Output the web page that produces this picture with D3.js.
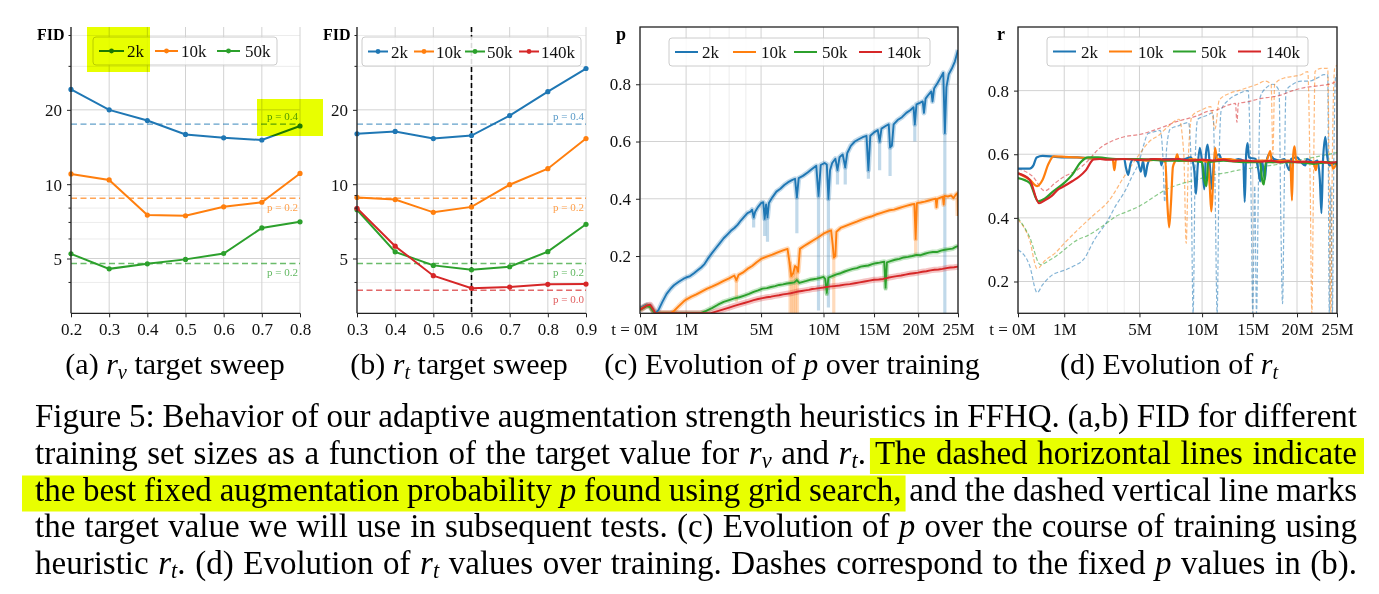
<!DOCTYPE html>
<html><head><meta charset="utf-8">
<script src="https://cdn.jsdelivr.net/npm/d3@7"></script>
<style>
body{margin:0;background:#fff;}
svg{display:block;font-family:"Liberation Serif","Times New Roman",serif;}
</style></head><body>
<svg id="fig" width="1379" height="594"></svg>
<script>
// ---------------- DATA ----------------
const sizeLabels = ["2k","10k","50k","140k"];
const fixedPLabels = ["p = 0.4","p = 0.2","p = 0.2","p = 0.0"];
const fixedPFid = [17.5, 8.77, 4.77, 3.72];

const rvTargets = [0.2,0.3,0.4,0.5,0.6,0.7,0.8];
const rvFid2k  = [24.2,20.0,18.1,15.9,15.4,15.1,17.2];
const rvFid10k = [11.0,10.4,7.5,7.45,8.1,8.45,11.05];
const rvFid50k = [5.22,4.54,4.76,4.96,5.24,6.65,7.04];

const rtTargets = [0.3,0.4,0.5,0.6,0.7,0.8,0.9];
const rtFid2k   = [16.0,16.35,15.3,15.74,18.96,23.7,29.4];
const rtFid10k  = [8.84,8.66,7.69,8.09,9.95,11.55,15.3];
const rtFid50k  = [7.88,5.32,4.69,4.5,4.63,5.33,6.88];
const rtFid140k = [7.99,5.61,4.26,3.79,3.83,3.93,3.94];
const chosenTarget = 0.6;

const fidTicks = [5,10,20];
const fidMinorTicks = [4,6,7,8,9,30,40];
const timeTicks = [0,1,5,10,15,20,25];
const timeTickLabels = ["t = 0M","1M","5M","10M","15M","20M","25M"];
const timeMinorTicks = [2,3,4];
const pTicks = [0.2,0.4,0.6,0.8];
const rTicks = [0.2,0.4,0.6,0.8];

// (c) p over training, [t in M images, p]
const p2k = [[0,0.018],[0.04,0.03],[0.08,0.028],[0.12,0.012],[0.16,0.0],[0.22,0.012],[0.3,0.04],[0.4,0.068],[0.5,0.085],[0.6,0.098],[0.75,0.11],[0.9,0.12],[1.0,0.125],[1.15,0.13],[1.3,0.14],[1.45,0.15],[1.6,0.16],[1.75,0.172],[1.9,0.19],[2.1,0.21],[2.3,0.228],[2.5,0.245],[2.7,0.262],[2.9,0.275],[3.1,0.288],[3.3,0.298],[3.5,0.31],[3.7,0.325],[3.9,0.338],[4.1,0.35],[4.3,0.355],[4.4,0.362],[4.5,0.335],[4.6,0.355],[4.8,0.372],[5.0,0.385],[5.15,0.388],[5.25,0.33],[5.35,0.38],[5.45,0.335],[5.55,0.385],[5.8,0.405],[6.1,0.425],[6.4,0.435],[6.7,0.448],[7.0,0.458],[7.3,0.465],[7.55,0.47],[7.7,0.405],[7.85,0.472],[8.2,0.48],[8.6,0.492],[9.0,0.505],[9.35,0.515],[9.55,0.41],[9.75,0.518],[10.1,0.525],[10.3,0.52],[10.45,0.40],[10.6,0.50],[10.8,0.525],[11.1,0.54],[11.3,0.50],[11.5,0.545],[11.8,0.555],[12.05,0.51],[12.25,0.56],[12.6,0.585],[13.0,0.6],[13.4,0.608],[13.8,0.615],[14.2,0.62],[14.4,0.50],[14.6,0.62],[15.0,0.632],[15.4,0.64],[15.6,0.60],[15.8,0.645],[16.3,0.655],[16.6,0.66],[16.75,0.58],[16.95,0.585],[17.15,0.66],[17.6,0.675],[18.1,0.685],[18.6,0.70],[19.1,0.71],[19.45,0.72],[19.6,0.66],[19.8,0.73],[20.2,0.735],[20.55,0.74],[20.7,0.70],[20.9,0.75],[21.3,0.765],[21.6,0.775],[21.75,0.74],[21.95,0.785],[22.4,0.805],[22.8,0.825],[23.1,0.84],[23.3,0.63],[23.5,0.79],[23.8,0.835],[24.2,0.855],[24.6,0.88],[25.0,0.92]];
const p10k = [[0,0.015],[0.04,0.028],[0.08,0.025],[0.12,0.01],[0.16,0.0],[0.5,0.0],[0.6,0.008],[0.75,0.025],[0.9,0.04],[1.0,0.048],[1.2,0.058],[1.4,0.066],[1.6,0.075],[1.85,0.085],[2.1,0.093],[2.4,0.103],[2.7,0.113],[3.0,0.122],[3.3,0.132],[3.42,0.115],[3.55,0.134],[3.8,0.142],[4.1,0.155],[4.4,0.165],[4.7,0.178],[5.0,0.19],[5.4,0.198],[5.8,0.205],[6.2,0.213],[6.6,0.22],[6.95,0.225],[7.1,0.18],[7.25,0.13],[7.4,0.14],[7.55,0.165],[7.7,0.16],[7.8,0.145],[7.95,0.225],[8.3,0.235],[8.7,0.245],[9.1,0.255],[9.5,0.265],[10.0,0.278],[10.4,0.285],[10.7,0.29],[10.85,0.24],[10.95,0.195],[11.1,0.2],[11.2,0.285],[11.6,0.298],[12.1,0.305],[12.6,0.312],[13.2,0.32],[13.7,0.327],[14.2,0.333],[14.7,0.338],[15.2,0.345],[15.7,0.35],[16.2,0.355],[16.7,0.36],[17.2,0.362],[17.7,0.367],[18.2,0.372],[18.7,0.376],[19.2,0.38],[19.55,0.382],[19.7,0.26],[19.85,0.385],[20.3,0.387],[20.8,0.39],[21.3,0.394],[21.8,0.398],[22.15,0.40],[22.25,0.37],[22.35,0.40],[22.8,0.405],[23.05,0.407],[23.15,0.38],[23.25,0.41],[23.7,0.408],[24.1,0.412],[24.4,0.402],[24.7,0.414],[24.95,0.42],[25.0,0.34]];
const p50k = [[0,0.012],[0.04,0.025],[0.08,0.022],[0.12,0.008],[0.16,0.0],[1.55,0.0],[1.8,0.008],[2.1,0.018],[2.4,0.03],[2.7,0.04],[3.0,0.046],[3.3,0.052],[3.6,0.056],[3.9,0.062],[4.2,0.068],[4.5,0.075],[4.8,0.08],[5.1,0.086],[5.4,0.088],[5.7,0.092],[6.0,0.095],[6.3,0.099],[6.6,0.101],[6.9,0.104],[7.2,0.106],[7.5,0.108],[7.7,0.116],[7.9,0.106],[8.2,0.11],[8.5,0.113],[8.8,0.117],[9.1,0.119],[9.4,0.121],[9.7,0.124],[10.0,0.127],[10.15,0.12],[10.3,0.072],[10.45,0.125],[10.8,0.13],[11.2,0.136],[11.6,0.14],[12.0,0.146],[12.4,0.151],[12.8,0.155],[13.2,0.158],[13.6,0.163],[14.0,0.165],[14.4,0.167],[14.8,0.172],[15.2,0.175],[15.6,0.177],[16.1,0.18],[16.25,0.09],[16.4,0.178],[16.8,0.182],[17.3,0.187],[17.8,0.19],[18.3,0.195],[18.8,0.197],[19.3,0.2],[19.8,0.204],[20.3,0.203],[20.8,0.208],[21.3,0.212],[21.8,0.214],[22.3,0.214],[22.8,0.219],[23.3,0.222],[23.8,0.224],[24.3,0.226],[24.7,0.232],[25.0,0.235]];
const p140k = [[0,0.012],[0.04,0.027],[0.08,0.03],[0.12,0.015],[0.16,0.0],[2.0,0.0],[2.3,0.006],[2.6,0.012],[3.0,0.02],[3.3,0.026],[3.6,0.031],[3.9,0.036],[4.2,0.041],[4.5,0.046],[4.8,0.05],[5.1,0.053],[5.4,0.056],[5.7,0.058],[6.0,0.061],[6.3,0.063],[6.6,0.066],[6.9,0.068],[7.2,0.07],[7.5,0.073],[7.8,0.076],[8.1,0.078],[8.4,0.08],[8.7,0.082],[9.0,0.085],[9.3,0.086],[9.6,0.088],[10.0,0.09],[10.5,0.093],[11.0,0.095],[11.5,0.097],[12.0,0.1],[12.5,0.102],[13.0,0.105],[13.5,0.108],[14.0,0.111],[14.5,0.114],[15.0,0.117],[15.5,0.118],[16.0,0.12],[16.5,0.124],[17.0,0.127],[17.5,0.13],[18.0,0.132],[18.5,0.135],[19.0,0.138],[19.5,0.14],[20.0,0.142],[20.5,0.145],[21.0,0.147],[21.5,0.15],[22.0,0.152],[22.5,0.153],[23.0,0.155],[23.5,0.158],[24.0,0.16],[24.5,0.161],[25.0,0.163]];
// pale spread reaching below the mean at the dips
const p2kBandDips = [[4.5,0.3],[5.25,0.27],[5.45,0.25],[7.7,0.28],[9.55,0.01],[10.45,0.02],[11.3,0.45],[12.05,0.45],[14.4,0.47],[15.6,0.5],[16.75,0.48],[19.6,0.6],[23.3,0.0]];
const p10kBandDips = [[3.42,0.04],[7.15,0.0],[7.3,0.0],[7.45,0.0],[7.6,0.0],[7.75,0.0],[10.95,0.0],[19.7,0.2]];
const p50kBandDips = [[10.3,0.06],[16.25,0.08]];

// (d) r_t over training (solid: adaptive), [t, r]
const rt2k = [[0,0.555],[0.1,0.555],[0.16,0.565],[0.22,0.59],[0.35,0.595],[0.7,0.592],[1.0,0.59],[1.5,0.59],[2.0,0.588],[3.0,0.585],[4.0,0.585],[4.1,0.56],[4.25,0.535],[4.4,0.57],[4.6,0.585],[4.9,0.575],[5.1,0.545],[5.25,0.58],[5.4,0.53],[5.55,0.565],[5.8,0.585],[6.5,0.585],[6.6,0.565],[6.7,0.585],[7.5,0.585],[8.0,0.58],[8.5,0.585],[9.0,0.59],[9.3,0.55],[9.45,0.475],[9.6,0.56],[9.8,0.62],[10.0,0.575],[10.2,0.49],[10.35,0.6],[10.5,0.63],[10.7,0.57],[10.9,0.49],[11.1,0.58],[11.6,0.6],[11.8,0.585],[12.5,0.585],[13.0,0.58],[13.5,0.585],[14.0,0.58],[14.15,0.45],[14.3,0.6],[14.45,0.635],[14.6,0.59],[15.3,0.585],[15.6,0.55],[15.8,0.515],[16.0,0.58],[16.3,0.52],[16.5,0.58],[16.8,0.6],[17.3,0.585],[18.0,0.58],[18.5,0.585],[19.1,0.55],[19.3,0.585],[20.0,0.59],[20.5,0.575],[21.0,0.565],[21.2,0.585],[22.0,0.575],[22.5,0.58],[22.8,0.52],[23.0,0.415],[23.2,0.58],[23.5,0.655],[23.7,0.6],[24.0,0.565],[24.5,0.57],[25.0,0.575]];
const rt10k = [[0,0.54],[0.1,0.52],[0.23,0.50],[0.35,0.52],[0.5,0.57],[0.65,0.593],[1.0,0.592],[1.5,0.59],[2.0,0.588],[3.0,0.585],[3.3,0.585],[3.4,0.55],[3.5,0.585],[4.5,0.585],[5.5,0.58],[6.5,0.585],[6.9,0.575],[7.05,0.45],[7.2,0.37],[7.35,0.45],[7.5,0.56],[7.7,0.58],[7.85,0.6],[8.0,0.58],[8.6,0.58],[9.0,0.585],[10.0,0.58],[10.5,0.575],[10.7,0.5],[10.85,0.42],[11.0,0.5],[11.2,0.62],[11.4,0.585],[12.5,0.585],[13.5,0.58],[14.5,0.575],[15.5,0.58],[16.5,0.58],[16.9,0.61],[17.1,0.575],[18.0,0.58],[19.2,0.58],[19.4,0.455],[19.55,0.6],[19.7,0.625],[19.9,0.58],[21.0,0.575],[22.0,0.575],[22.3,0.55],[22.5,0.575],[23.5,0.575],[24.3,0.57],[24.5,0.555],[25.0,0.575]];
const rt50k = [[0,0.525],[0.1,0.51],[0.25,0.452],[0.4,0.46],[0.6,0.48],[1.0,0.51],[1.3,0.535],[1.65,0.574],[2.0,0.59],[2.5,0.59],[3.5,0.585],[5.0,0.585],[7.0,0.58],[9.0,0.58],[10.0,0.575],[10.2,0.52],[10.4,0.5],[10.55,0.575],[12.0,0.58],[14.0,0.575],[15.8,0.575],[16.0,0.52],[16.2,0.505],[16.4,0.575],[18.0,0.575],[20.0,0.575],[22.0,0.57],[24.0,0.575],[25.0,0.57]];
const rt140k = [[0,0.54],[0.1,0.52],[0.27,0.446],[0.4,0.455],[0.6,0.47],[0.8,0.49],[1.0,0.50],[1.3,0.515],[1.6,0.53],[1.9,0.55],[2.27,0.584],[2.6,0.585],[3.0,0.583],[4.0,0.585],[5.0,0.582],[6.0,0.585],[7.0,0.583],[8.0,0.585],[9.0,0.58],[10.0,0.583],[11.0,0.58],[12.0,0.583],[13.0,0.578],[14.0,0.58],[15.0,0.578],[16.0,0.577],[17.0,0.58],[18.0,0.575],[19.0,0.578],[20.0,0.575],[21.0,0.577],[22.0,0.574],[23.0,0.576],[24.0,0.573],[25.0,0.575]];
// (d) dashed: r_t measured with the fixed p values of (b)
const rtFixed2k = [[0,0.30],[0.1,0.25],[0.23,0.165],[0.35,0.19],[0.6,0.22],[1.0,0.235],[1.4,0.25],[1.8,0.27],[2.3,0.33],[3.0,0.39],[3.5,0.44],[4.0,0.48],[4.5,0.53],[5.0,0.58],[5.3,0.63],[5.6,0.665],[6.0,0.67],[6.5,0.675],[6.7,0.6],[6.85,0.45],[7.0,0.62],[7.3,0.68],[8.0,0.69],[8.8,0.7],[9.0,0.6],[9.2,0.1],[9.4,0.6],[9.6,0.71],[10.3,0.72],[11.0,0.73],[11.2,0.5],[11.4,0.1],[11.6,0.6],[11.8,0.74],[12.5,0.77],[13.5,0.79],[14.5,0.8],[14.8,0.5],[15.0,0.1],[15.2,0.5],[15.4,0.1],[15.6,0.5],[15.8,0.78],[16.5,0.81],[17.2,0.82],[17.9,0.8],[18.1,0.4],[18.3,0.13],[18.5,0.5],[18.7,0.8],[19.5,0.82],[20.5,0.83],[21.5,0.83],[22.5,0.84],[23.3,0.85],[23.8,0.85],[24.0,0.1],[24.2,0.5],[24.4,0.1],[24.6,0.6],[24.8,0.84],[25.0,0.85]];
const rtFixed10k = [[0,0.395],[0.1,0.33],[0.23,0.24],[0.4,0.265],[0.7,0.29],[1.0,0.32],[1.5,0.36],[2.2,0.405],[3.1,0.455],[4.0,0.53],[5.0,0.6],[5.7,0.64],[6.4,0.66],[7.2,0.69],[8.0,0.71],[8.4,0.6],[8.6,0.32],[8.8,0.6],[9.1,0.72],[10.0,0.74],[10.8,0.75],[11.2,0.68],[11.6,0.77],[12.5,0.79],[13.5,0.8],[14.5,0.81],[15.5,0.82],[16.3,0.83],[17.0,0.82],[17.2,0.6],[17.4,0.82],[18.5,0.84],[19.6,0.845],[20.5,0.85],[21.3,0.86],[21.6,0.5],[21.8,0.1],[22.0,0.5],[22.2,0.86],[23.0,0.87],[23.8,0.87],[24.0,0.5],[24.2,0.1],[24.4,0.6],[24.7,0.87],[25.0,0.88]];
const rtFixed50k = [[0,0.40],[0.1,0.34],[0.3,0.253],[0.5,0.265],[0.8,0.285],[1.0,0.30],[1.5,0.33],[2.0,0.345],[2.4,0.36],[3.0,0.385],[3.5,0.405],[4.2,0.42],[5.0,0.437],[6.0,0.465],[7.0,0.49],[8.0,0.505],[9.0,0.515],[10.0,0.525],[11.0,0.535],[12.3,0.542],[13.5,0.55],[15.0,0.557],[16.5,0.563],[17.5,0.567],[19.0,0.575],[20.5,0.583],[22.0,0.59],[23.5,0.598],[25.0,0.605]];
const rtFixed140k = [[0,0.555],[0.15,0.53],[0.4,0.485],[0.7,0.51],[1.0,0.53],[1.5,0.55],[2.0,0.58],[2.5,0.615],[3.2,0.64],[4.0,0.655],[5.0,0.662],[6.0,0.675],[7.0,0.69],[7.6,0.70],[8.5,0.71],[9.5,0.72],[10.5,0.735],[11.4,0.74],[12.5,0.755],[13.2,0.76],[13.35,0.70],[13.5,0.76],[14.5,0.765],[15.8,0.775],[17.0,0.78],[18.0,0.785],[19.5,0.80],[21.0,0.81],[22.5,0.815],[24.0,0.82],[25.0,0.83]];

// ---------------- STYLE / LAYOUT ----------------
const COLORS = ["#1f77b4","#ff7f0e","#2ca02c","#d62728"];
const GRID = "#d2d2d2", GRID_MINOR = "#ececec", SPINE = "#222";
const HL = "#e8ff00";
const TICKFS = 17, LEGFS = 17;
const YTOP = 27, YBOT = 313.3;

const svg = d3.select("#fig");
svg.append("rect").attr("width",1379).attr("height",594).attr("fill","#fff");

let clipId = 0;
function makeClip(x0,x1){
  const id = "clip"+(clipId++);
  svg.append("clipPath").attr("id",id).append("rect")
    .attr("x",x0).attr("y",YTOP).attr("width",x1-x0).attr("height",YBOT-YTOP);
  return "url(#"+id+")";
}
function styleAxis(g){
  g.select(".domain").remove();
  g.selectAll(".tick line").attr("stroke",SPINE).attr("stroke-width",1);
  g.selectAll(".tick text").attr("font-size",TICKFS).attr("font-family","Liberation Serif").attr("fill","#111");
}
function legend(g, box, items, withMarker){
  g.append("rect").attr("x",box[0]).attr("y",box[1]).attr("width",box[2]).attr("height",box[3])
    .attr("rx",3).attr("fill","#fff").attr("fill-opacity",0.85).attr("stroke","#cccccc").attr("stroke-width",1);
  const cy = box[1]+box[3]/2;
  items.forEach(it=>{
    g.append("line").attr("x1",it.lx).attr("x2",it.lx+it.len).attr("y1",cy).attr("y2",cy)
      .attr("stroke",it.color).attr("stroke-width",2);
    if(withMarker) g.append("circle").attr("cx",it.lx+it.len/2).attr("cy",cy).attr("r",2.4).attr("fill",it.color);
    g.append("text").attr("x",it.tx).attr("y",cy+6).attr("font-size",LEGFS).attr("fill","#111").text(it.label);
  });
}

// ---------- FID panels (a) (b) ----------
function fidPanel(cfg){
  const g = svg.append("g");
  const x = d3.scaleLinear().domain(cfg.xDomain).range([cfg.x0,cfg.x1]);
  const y = d3.scaleLog().domain([3.0,43.3]).range([YBOT,YTOP]);
  const clip = makeClip(cfg.x0-3,cfg.x1+3);
  g.selectAll(".mg").data(fidMinorTicks).join("line")
    .attr("x1",cfg.x0).attr("x2",cfg.x1).attr("y1",d=>y(d)).attr("y2",d=>y(d))
    .attr("stroke",GRID_MINOR).attr("stroke-width",1);
  g.selectAll(".hg").data(fidTicks).join("line")
    .attr("x1",cfg.x0).attr("x2",cfg.x1).attr("y1",d=>y(d)).attr("y2",d=>y(d))
    .attr("stroke",GRID).attr("stroke-width",1);
  g.selectAll(".vg").data(cfg.targets).join("line")
    .attr("x1",d=>x(d)).attr("x2",d=>x(d)).attr("y1",YTOP).attr("y2",YBOT)
    .attr("stroke",GRID).attr("stroke-width",1);
  // fixed-p dashed references
  cfg.series.forEach((s,i)=>{
    const yy = y(fixedPFid[i]);
    g.append("line").attr("x1",cfg.x0).attr("x2",cfg.x1).attr("y1",yy).attr("y2",yy)
      .attr("stroke",COLORS[i]).attr("stroke-opacity",0.7).attr("stroke-width",1.4).attr("stroke-dasharray","6,3.5");
    g.append("text").attr("x",cfg.x1-2).attr("y", i===0 ? yy-4.5 : yy+12.5)
      .attr("text-anchor","end").attr("font-size",11).attr("fill",COLORS[i]).attr("fill-opacity",0.75)
      .text(fixedPLabels[i]);
  });
  if(cfg.vline!==undefined){
    g.append("line").attr("x1",x(cfg.vline)).attr("x2",x(cfg.vline)).attr("y1",YTOP).attr("y2",YBOT)
      .attr("stroke","#000").attr("stroke-width",1.6).attr("stroke-dasharray","5,3");
  }
  const line = d3.line().x((d,j)=>x(cfg.targets[j])).y(d=>y(d));
  const sg = g.append("g").attr("clip-path",clip);
  cfg.series.forEach((s,i)=>{
    sg.append("path").attr("d",line(s)).attr("fill","none").attr("stroke",COLORS[i]).attr("stroke-width",2);
    sg.selectAll(null).data(s).join("circle").attr("cx",(d,j)=>x(cfg.targets[j])).attr("cy",d=>y(d))
      .attr("r",2.6).attr("fill",COLORS[i]);
  });
  // axes
  const ax = g.append("g").attr("transform",`translate(0,${YBOT})`)
    .call(d3.axisBottom(x).tickValues(cfg.targets).tickFormat(d3.format(".1f")).tickSize(4).tickPadding(6));
  styleAxis(ax);
  const ay = g.append("g").attr("transform",`translate(${cfg.x0},0)`)
    .call(d3.axisLeft(y).tickValues(fidTicks).tickFormat(d3.format("d")).tickSize(4).tickPadding(5));
  styleAxis(ay);
  ay.selectAll(".tick text").attr("dy","0.36em");
  g.selectAll(".mt").data(fidMinorTicks).join("line")
    .attr("x1",cfg.x0-2.5).attr("x2",cfg.x0).attr("y1",d=>y(d)).attr("y2",d=>y(d)).attr("stroke",SPINE);
  g.append("line").attr("x1",cfg.x0).attr("x2",cfg.x0).attr("y1",YTOP).attr("y2",YBOT).attr("stroke",SPINE).attr("stroke-width",1.3);
  g.append("line").attr("x1",cfg.x0).attr("x2",cfg.x1).attr("y1",YBOT).attr("y2",YBOT).attr("stroke",SPINE).attr("stroke-width",1.3);
  g.append("text").attr("x",cfg.labelX).attr("y",40).attr("font-size",16).attr("font-weight","bold").text("FID");
  legend(g, cfg.legBox, cfg.legItems.map((it,i)=>({...it,color:COLORS[i],label:sizeLabels[i]})), true);
}

fidPanel({xDomain:[0.2,0.8], x0:71, x1:300, targets:rvTargets, series:[rvFid2k,rvFid10k,rvFid50k],
  labelX:37, legBox:[93,37,184,28],
  legItems:[{lx:99,len:25,tx:127},{lx:155,len:23,tx:181},{lx:217,len:23,tx:245}]});
fidPanel({xDomain:[0.3,0.9], x0:357, x1:586, targets:rtTargets, series:[rtFid2k,rtFid10k,rtFid50k,rtFid140k],
  labelX:323, vline:chosenTarget, legBox:[362,37,219,29],
  legItems:[{lx:368,len:20,tx:391},{lx:414,len:20,tx:436},{lx:465,len:20,tx:487},{lx:519,len:20,tx:541}]});

// ---------- time panels (c) (d) ----------
function timePanel(cfg){
  const g = svg.append("g");
  const x = d3.scalePow().exponent(0.6).domain([0,25]).range([cfg.x0,cfg.x1]);
  const y = d3.scaleLinear().domain(cfg.yDomain).range([YBOT,YTOP]);
  const clip = makeClip(cfg.x0,cfg.x1);
  g.selectAll(".vm").data(timeMinorTicks).join("line")
    .attr("x1",d=>x(d)).attr("x2",d=>x(d)).attr("y1",YTOP).attr("y2",YBOT).attr("stroke",GRID_MINOR).attr("stroke-width",1);
  g.selectAll(".vg").data(timeTicks).join("line")
    .attr("x1",d=>x(d)).attr("x2",d=>x(d)).attr("y1",YTOP).attr("y2",YBOT).attr("stroke",GRID).attr("stroke-width",1);
  g.selectAll(".hg").data(cfg.yTicks).join("line")
    .attr("x1",cfg.x0).attr("x2",cfg.x1).attr("y1",d=>y(d)).attr("y2",d=>y(d)).attr("stroke",GRID).attr("stroke-width",1);
  const pg = g.append("g").attr("clip-path",clip);
  cfg.draw(pg,x,y);
  const ax = g.append("g").attr("transform",`translate(0,${YBOT})`)
    .call(d3.axisBottom(x).tickValues(timeTicks).tickFormat((d,i)=>timeTickLabels[i]).tickSize(4).tickPadding(6));
  styleAxis(ax);
  ax.selectAll(".tick text").filter((d,i)=>i===0).attr("dx",-6);
  const ay = g.append("g").attr("transform",`translate(${cfg.x0},0)`)
    .call(d3.axisLeft(y).tickValues(cfg.yTicks).tickFormat(d3.format(".1f")).tickSize(4).tickPadding(5));
  styleAxis(ay);
  g.append("rect").attr("x",cfg.x0).attr("y",YTOP).attr("width",cfg.x1-cfg.x0).attr("height",YBOT-YTOP)
    .attr("fill","none").attr("stroke",SPINE).attr("stroke-width",1.3);
  g.append("text").attr("x",cfg.labelX).attr("y",40).attr("font-size",18).attr("font-weight","bold").text(cfg.label);
  legend(g, cfg.legBox, cfg.legItems.map((it,i)=>({...it,color:COLORS[i],label:sizeLabels[i]})), false);
}

timePanel({x0:640, x1:958, yDomain:[0,1], yTicks:pTicks, label:"p", labelX:616,
  legBox:[669,38,261,28],
  legItems:[{lx:675,len:23,tx:702},{lx:733,len:23,tx:761},{lx:794,len:23,tx:822},{lx:859,len:23,tx:887}],
  draw:(pg,x,y)=>{
    const line = d3.line().x(d=>x(d[0])).y(d=>y(d[1]));
    const series = [p2k,p10k,p50k,p140k];
    const dips = [p2kBandDips,p10kBandDips,p50kBandDips,[]];
    series.forEach((s,i)=>{
      pg.append("path").attr("d",line(s)).attr("fill","none").attr("stroke",COLORS[i])
        .attr("stroke-opacity",0.28).attr("stroke-width",i===3?6:5).attr("stroke-linejoin","round");
      pg.selectAll(null).data(dips[i]).join("line")
        .attr("x1",d=>x(d[0])).attr("x2",d=>x(d[0])).attr("y1",d=>y(d[1]))
        .attr("y2",d=>y(d3.least(s,q=>Math.abs(q[0]-d[0]))[1]))
        .attr("stroke",COLORS[i]).attr("stroke-opacity",0.28).attr("stroke-width",3.2);
    });
    series.forEach((s,i)=>{
      pg.append("path").attr("d",line(s)).attr("fill","none").attr("stroke",COLORS[i])
        .attr("stroke-width",1.9).attr("stroke-linejoin","round");
    });
  }});

timePanel({x0:1018, x1:1337, yDomain:[0.1,1.0], yTicks:rTicks, label:"r", labelX:997,
  legBox:[1047,37,261,29],
  legItems:[{lx:1053,len:23,tx:1081},{lx:1109,len:23,tx:1138},{lx:1173,len:23,tx:1201},{lx:1238,len:23,tx:1266}],
  draw:(pg,x,y)=>{
    const line = d3.line().x(d=>x(d[0])).y(d=>y(d[1])).curve(d3.curveMonotoneX);
    [rtFixed2k,rtFixed10k,rtFixed50k,rtFixed140k].forEach((s,i)=>{
      pg.append("path").attr("d",line(s)).attr("fill","none").attr("stroke",COLORS[i])
        .attr("stroke-opacity",0.55).attr("stroke-width",1.2).attr("stroke-dasharray","4,2.2");
    });
    [rt2k,rt10k,rt50k,rt140k].forEach((s,i)=>{
      pg.append("path").attr("d",line(s)).attr("fill","none").attr("stroke",COLORS[i])
        .attr("stroke-width",2.2).attr("stroke-linejoin","round");
    });
  }});

// ---------- captions ----------
function richText(x, y, segs, size){
  const t = svg.append("text").attr("x",x).attr("y",y).attr("font-size",size).attr("fill","#000");
  let shift = 0;
  segs.forEach(s=>{
    const ts = t.append("tspan").text(s.t);
    if(s.it) ts.attr("font-style","italic");
    if(s.sub){
      const d = size*0.15;
      ts.attr("font-size",size*0.68).attr("font-style","italic").attr("dy",d-shift); shift=d;
    } else if(shift){ ts.attr("dy",-shift); shift=0; }
  });
  t.full = segs.map(s=>s.t).join("");
  return t;
}
const N = t=>({t}), I = t=>({t,it:true}), S = t=>({t,sub:true});

[[175,[N("(a) "),I("r"),S("v"),N(" target sweep")]],
 [459,[N("(b) "),I("r"),S("t"),N(" target sweep")]],
 [792,[N("(c) Evolution of "),I("p"),N(" over training")]],
 [1169,[N("(d) Evolution of "),I("r"),S("t")]]].forEach(([cx,segs])=>{
  richText(cx,374,segs,30).attr("text-anchor","middle");
});

const capLines = [
  [N("Figure 5: Behavior of our adaptive augmentation strength heuristics in FFHQ. (a,b) FID for different")],
  [N("training set sizes as a function of the target value for "),I("r"),S("v"),N(" and "),I("r"),S("t"),N(". The dashed horizontal lines indicate")],
  [N("the best fixed augmentation probability "),I("p"),N(" found using grid search, and the dashed vertical line marks")],
  [N("the target value we will use in subsequent tests. (c) Evolution of "),I("p"),N(" over the course of training using")],
  [N("heuristic "),I("r"),S("t"),N(". (d) Evolution of "),I("r"),S("t"),N(" values over training. Dashes correspond to the fixed "),I("p"),N(" values in (b).")]
];
const capBase = [427,463.5,500.5,537,573.5];
const CAPL = 35, CAPR = 1357, CAPFS = 33;
const capTexts = capLines.map((segs,k)=>{
  const t = richText(CAPL, capBase[k], segs, CAPFS);
  const w = t.node().getComputedTextLength();
  const spaces = (t.full.match(/ /g)||[]).length;
  t.attr("word-spacing", (CAPR-CAPL-w)/spaces);
  return t;
});

// ---------- highlights (multiply, like a marker) ----------
const hl = svg.append("g");
function hlRect(x,y,w,h){ hl.append("rect").attr("x",x).attr("y",y).attr("width",w).attr("height",h).attr("fill",HL).style("mix-blend-mode","multiply"); }
hlRect(87,27,63,45);
hlRect(257,99,66,37);
{
  const t2 = capTexts[1], n2 = t2.node();
  const i0 = t2.full.indexOf("The dashed");
  const xs = n2.getStartPositionOfChar(i0).x - 5;
  hlRect(xs, capBase[1]-25.5, 1364-xs, 36);
  const t3 = capTexts[2], n3 = t3.node();
  const i1 = t3.full.indexOf("search,")+6;
  const xe = n3.getEndPositionOfChar(i1).x + 4;
  hlRect(22, capBase[2]-25, xe-22, 36);
}
</script>
</body></html>
